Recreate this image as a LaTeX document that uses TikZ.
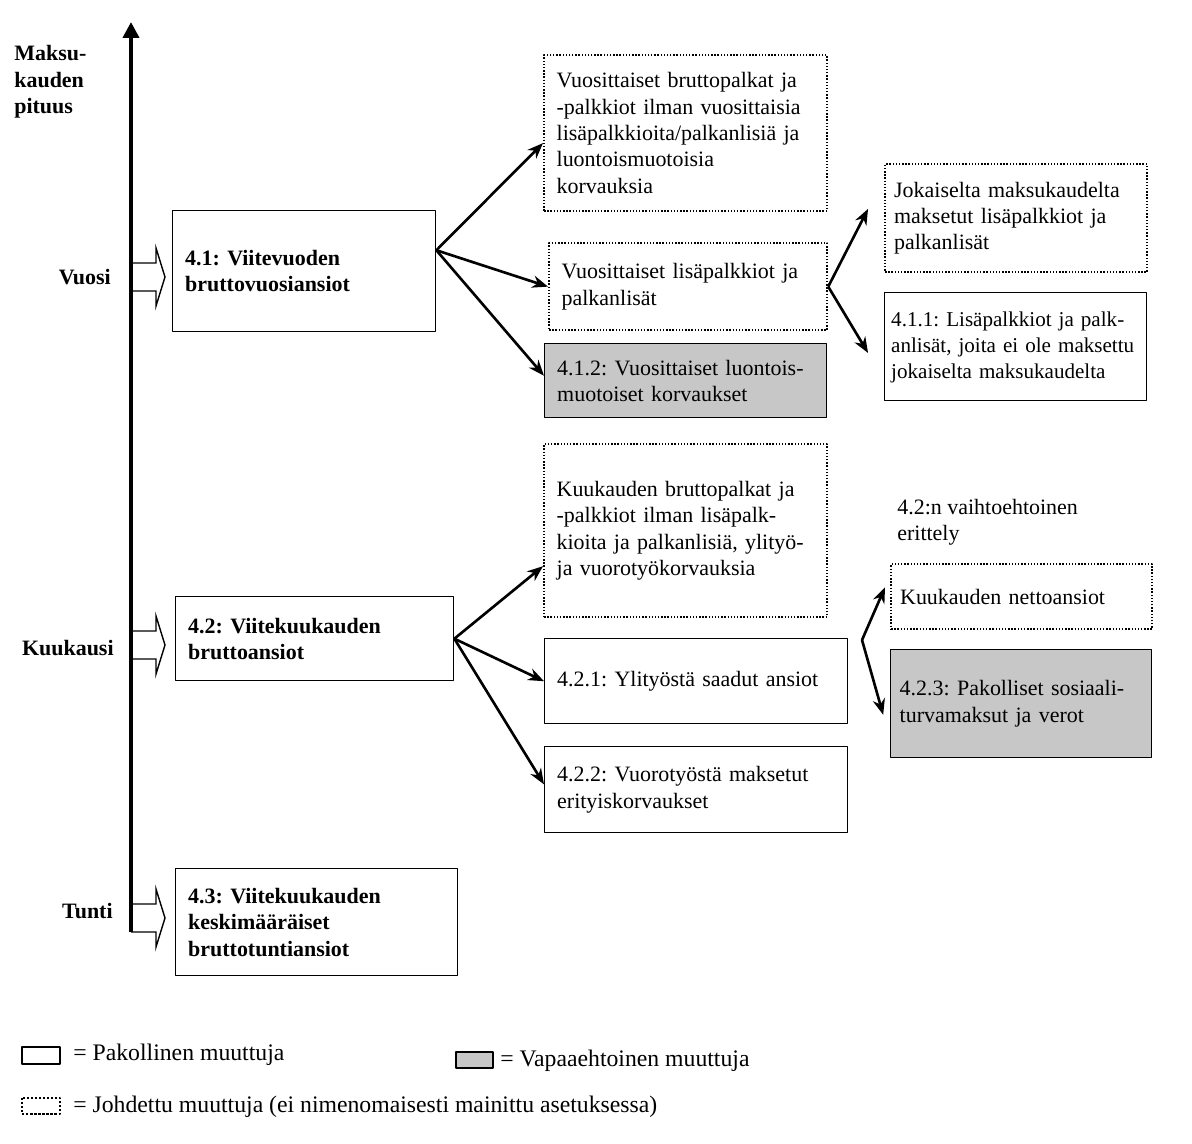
\documentclass[tikz,border=0pt]{standalone}
\usepackage{fontspec}
\setmainfont{Liberation Serif}
\usetikzlibrary{arrows.meta}
\frenchspacing

\tikzset{
  varbox/.style={draw, line width=0.8pt, anchor=north west, align=left, inner xsep=0.25cm, inner ysep=0pt},
  headbox/.style={varbox, font=\fontsize{12.5}{15}\selectfont\bfseries},
  derived/.style={varbox, densely dotted, line width=1.3pt},
  optional/.style={varbox, fill=black!22},
  link/.style={line width=1.5pt, -{Stealth[length=9pt,width=7pt]}},
  levellabel/.style={anchor=east, inner sep=0pt, font=\fontsize{12.5}{15}\selectfont\bfseries},
  legendtext/.style={anchor=west, inner sep=0pt, font=\fontsize{13.5}{16}\selectfont},
  levelarrow/.pic={
    \draw[line width=0.8pt, line join=miter] (0,-14)--(25,-14)--(25,-29)--(34,0)--(25,29)--(25,14)--(0,14);
  }
}

\begin{document}
\begin{tikzpicture}[x=0.02cm, y=-0.02cm, font=\fontsize{12.5}{15}\selectfont, line join=round]
  \useasboundingbox (0,0) rectangle (1192,1143);

  % Akseli: maksukauden pituus
  \draw[line width=2.2pt, -{Triangle[length=9pt,width=9pt]}] (131,932)--(131,22);
  \node[anchor=west, align=left, inner sep=0pt, font=\fontsize{12.5}{15}\selectfont\bfseries] (lblaxis) at (14,82) {Maksu-\\kauden\\pituus};
  \node[levellabel] (lblvuosi) at (111,277) {Vuosi};
  \node[levellabel] (lblkk) at (114,648) {Kuukausi};
  \node[levellabel] (lbltunti) at (113,911) {Tunti};
  \pic at (131,277) {levelarrow};
  \pic at (131,645) {levelarrow};
  \pic at (131,918) {levelarrow};

  % Vuosi
  \node[headbox, text width=4.76cm, minimum height=2.42cm] (b41) at (172,210) {4.1: Viitevuoden\\bruttovuosiansiot};
  \node[derived, text width=5.16cm, minimum height=3.12cm] (d1) at (543,54) {Vuosittaiset bruttopalkat ja\\-palkkiot ilman vuosittaisia\\lisäpalkkioita/palkanlisiä ja\\luontoismuotoisia\\korvauksia};
  \node[derived, text width=5.06cm, minimum height=1.74cm] (d2) at (548,242) {Vuosittaiset lisäpalkkiot ja\\palkanlisät};
  \node[optional, text width=5.14cm, minimum height=1.48cm] (s412) at (544,343) {4.1.2: Vuosittaiset luontois-\\muotoiset korvaukset};
  \node[derived, inner xsep=0.18cm, text width=4.88cm, minimum height=2.16cm] (d3) at (884,163) {Jokaiselta maksukaudelta\\maksetut lisäpalkkiot ja\\palkanlisät};
  \node[varbox, inner xsep=0.13cm, text width=4.98cm, minimum height=2.16cm, font=\fontsize{12}{15}\selectfont] (b411) at (884,292) {\\[-6pt]4.1.1: Lisäpalkkiot ja palk-\\anlisät, joita ei ole maksettu\\jokaiselta maksukaudelta};

  \draw[link] (b41.9) -- (d1.184);
  \draw[link] (b41.9) -- (d2.west);
  \draw[link] (b41.9) -- (s412.178);
  \draw[link, shorten >=0.7cm] (d2.east) -- (d3.163);
  \draw[link, shorten >=0.62cm] (d2.east) -- (b411.194);

  % Kuukausi
  \node[headbox, text width=5.06cm, minimum height=1.68cm] (b42) at (175,596) {4.2: Viitekuukauden\\bruttoansiot};
  \node[derived, text width=5.16cm, minimum height=3.46cm] (d4) at (543,443) {Kuukauden bruttopalkat ja\\-palkkiot ilman lisäpalk-\\kioita ja palkanlisiä, ylityö-\\ja vuorotyökorvauksia};
  \node[varbox, text width=5.56cm, minimum height=1.70cm] (b421) at (544,638) {4.2.1: Ylityöstä saadut ansiot};
  \node[varbox, text width=5.56cm, minimum height=1.72cm] (b422) at (544,746) {4.2.2: Vuorotyöstä maksetut\\erityiskorvaukset};

  \draw[link] (b42.east) -- (d4.194);
  \draw[link] (b42.east) -- (b421.west);
  \draw[link] (b42.east) -- (b422.178);

  % 4.2:n vaihtoehtoinen erittely
  \node[anchor=west, align=left, inner sep=0pt] (lblalt) at (897,522) {4.2:n vaihtoehtoinen\\erittely};
  \node[derived, inner xsep=0.18cm, text width=4.86cm, minimum height=1.30cm] (d5) at (890,563) {Kuukauden nettoansiot};
  \node[optional, inner xsep=0.18cm, text width=4.86cm, minimum height=2.16cm] (s423) at (890,649) {4.2.3: Pakolliset sosiaali-\\turvamaksut ja verot};
  \coordinate (alt) at (862,640);
  \draw[link, shorten >=0.25cm] (alt) -- (d5.171);
  \draw[link, shorten >=0.5cm] (alt) -- (s423.195);

  % Tunti
  \node[headbox, text width=5.14cm, minimum height=2.14cm] (b43) at (175,868) {4.3: Viitekuukauden\\keskimääräiset\\bruttotuntiansiot};

  % Selitteet
  \draw[line width=0.8pt] (22,1047) rectangle (60,1064);
  \node[legendtext] (legmand) at (73,1055) {= Pakollinen muuttuja};
  \draw[line width=0.8pt, fill=black!22] (456,1052) rectangle (493,1068);
  \node[legendtext] (legopt) at (500,1061) {= Vapaaehtoinen muuttuja};
  \draw[densely dotted, line width=1.3pt] (22,1098) rectangle (60,1114);
  \node[legendtext] (legder) at (73,1107) {= Johdettu muuttuja (ei nimenomaisesti mainittu asetuksessa)};
\end{tikzpicture}
\end{document}
